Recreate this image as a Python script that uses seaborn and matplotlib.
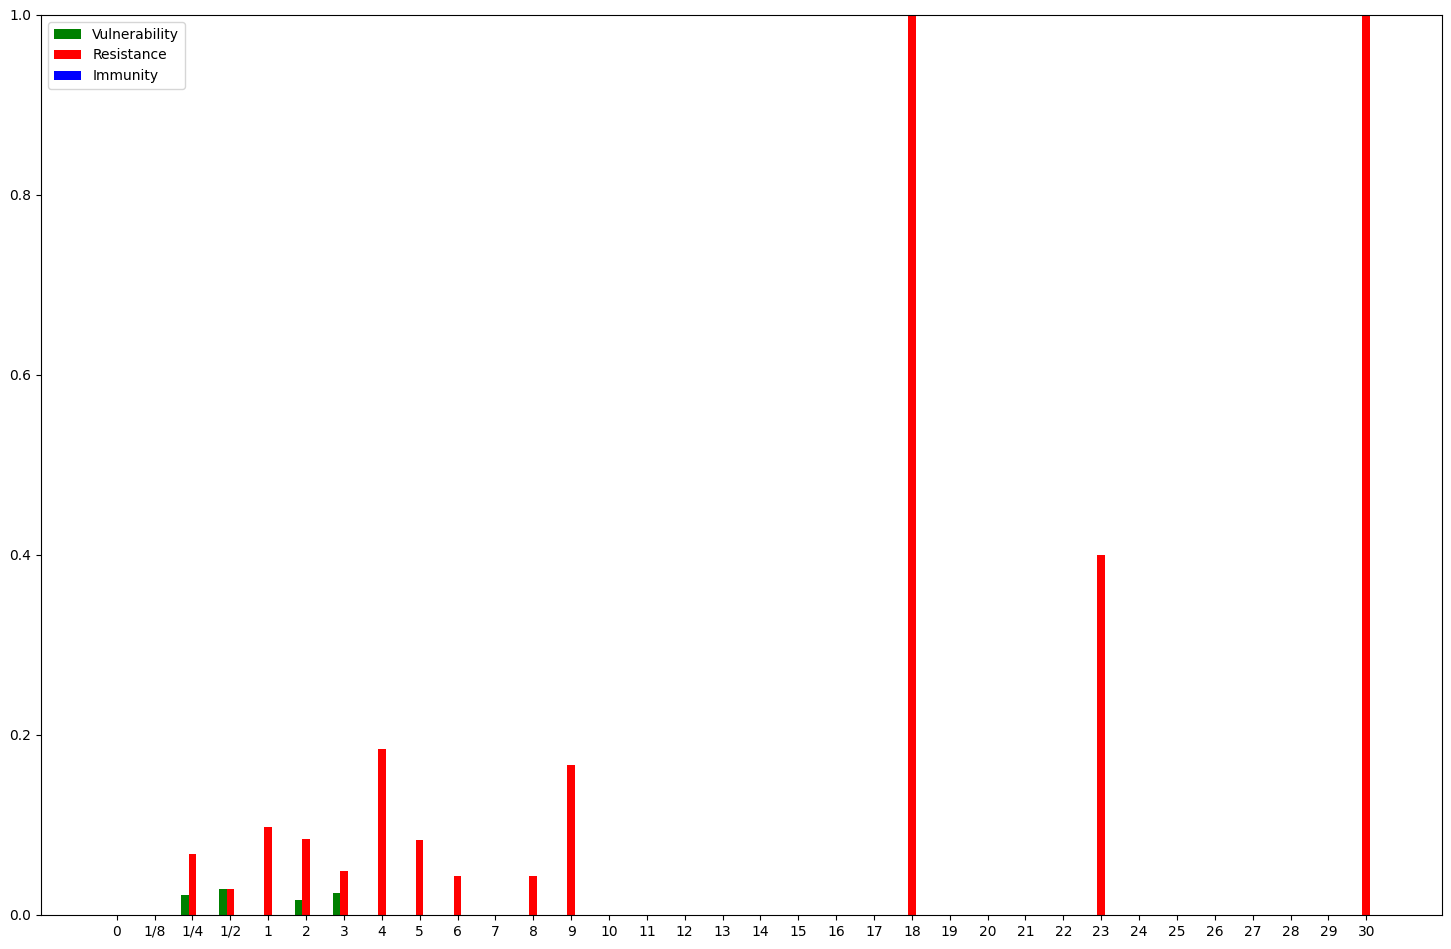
import matplotlib
matplotlib.use("Agg")
import matplotlib.pyplot as plt
import seaborn as sns
import pandas as pd

categories = ["0", "1/8", "1/4", "1/2"] + [str(i) for i in range(1, 31)]

vulnerability = [0, 0, 0.0222, 0.0289, 0, 0.0167, 0.0244] + [0] * 27

resistance = [0, 0, 0.0678, 0.0289, 0.0978, 0.0844, 0.049, 0.1844, 0.0833,
              0.0433, 0, 0.0433, 0.1667, 0, 0, 0, 0, 0, 0, 0, 0, 1.0,
              0, 0, 0, 0, 0.4, 0, 0, 0, 0, 0, 0, 1.0]

immunity = [0] * 34

series_names = ["Vulnerability", "Resistance", "Immunity"]
series_colors = ["green", "red", "blue"]

rows = []
for name, vals in zip(series_names, [vulnerability, resistance, immunity]):
    for c, v in zip(categories, vals):
        rows.append({"cat": c, "value": v, "series": name})
df = pd.DataFrame(rows)

fig = plt.figure(figsize=(14.51, 9.49), dpi=100)
ax = fig.add_axes([41 / 1451, 34 / 949, (1442 - 41) / 1451, (915 - 15) / 949])

sns.barplot(data=df, x="cat", y="value", hue="series", order=categories,
            hue_order=series_names, palette=dict(zip(series_names, series_colors)),
            width=0.6, dodge=True, saturation=1, errorbar=None, ax=ax)

ax.set_xlim(-2, 35)
ax.set_ylim(0, 1)
ax.set_xlabel("")
ax.set_ylabel("")
ax.legend(loc="upper left", title=None)

fig.savefig("out.png", dpi=100)
